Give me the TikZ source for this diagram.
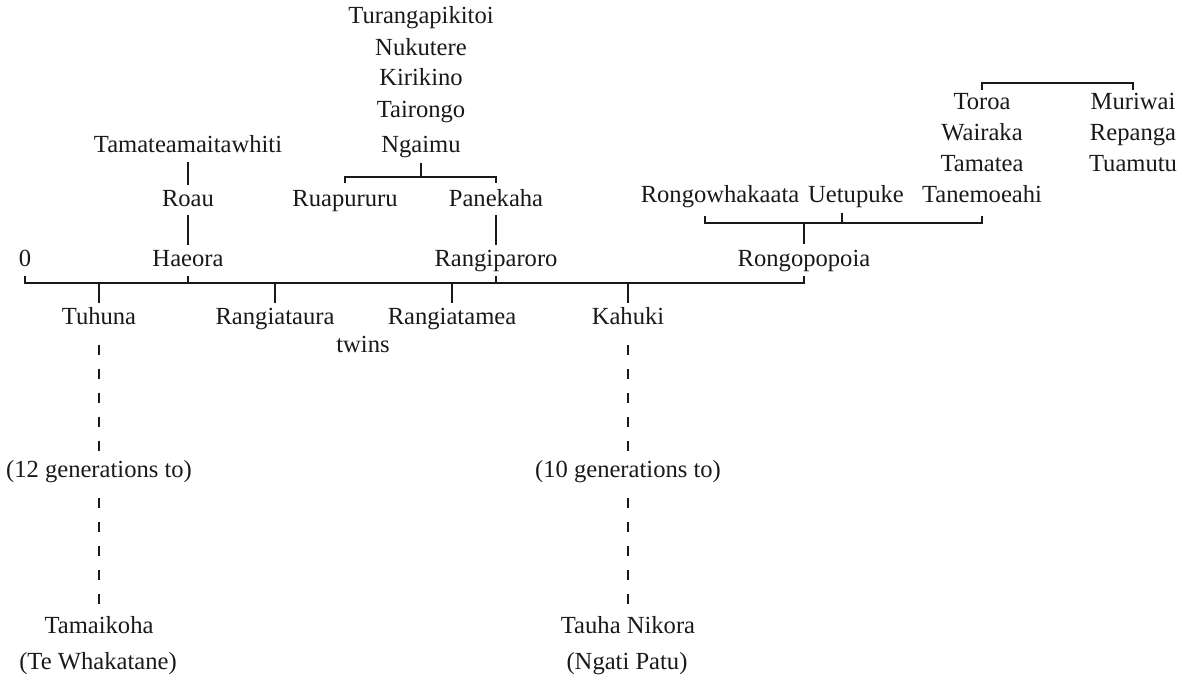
\documentclass[tikz,border=0pt]{standalone}
\usepackage{fontspec}
\setmainfont{Liberation Serif}
\usetikzlibrary{calc}
\definecolor{inkcol}{RGB}{25,25,25}
\tikzset{
  % a name in the tree
  pname/.style={font=\fontsize{12.3}{14}\selectfont, text=inkcol, inner sep=0pt,
                text height=8.5pt, text depth=2.5pt},
  % parent -- child line between two names
  link/.style={draw=inkcol, line width=0.75pt, shorten <=2pt, shorten >=2pt},
  % from a parent down to a sibling bracket
  stem/.style={draw=inkcol, line width=0.75pt, shorten <=2.5pt},
  % sibling bracket
  sibs/.style={draw=inkcol, line width=0.75pt, shorten <=3pt, shorten >=3pt},
  % main line of descent
  spine/.style={draw=inkcol, line width=1.1pt, shorten <=2.5pt},
  % many generations skipped
  descent/.style={draw=inkcol, line width=0.9pt, dash pattern=on 5pt off 7pt},
}
\begin{document}
\begin{tikzpicture}[x=0.5pt,y=-0.5pt]
  \useasboundingbox (0,0) rectangle (1187,684);

  % Ngaimu line
  \node[pname] (tur) at (421,18) {Turangapikitoi};
  \node[pname] (nuk) at (421,50) {Nukutere};
  \node[pname] (kir) at (421,80) {Kirikino};
  \node[pname] (tai) at (421,112) {Tairongo};
  \node[pname] (ngai) at (421,147) {Ngaimu};
  \node[pname] (ruap) at (345,200) {Ruapururu};
  \node[pname] (pane) at (496,200) {Panekaha};
  \node[pname] (rpar) at (496,260) {Rangiparoro};
  \coordinate (ngaib) at (421,177);
  \draw[stem] (ngai) -- (ngaib);
  \draw[sibs] (ruap) |- (ngaib) -| (pane);
  \draw[link] (pane) -- (rpar);

  % Tamateamaitawhiti line
  \node[pname] (tmw) at (188,147) {Tamateamaitawhiti};
  \node[pname] (roau) at (188,200) {Roau};
  \node[pname] (haeora) at (188,260) {Haeora};
  \draw[link] (tmw) -- (roau);
  \draw[link] (roau) -- (haeora);

  % Toroa and Muriwai
  \node[pname] (toroa) at (982,104) {Toroa};
  \node[pname] (wair) at (982,135) {Wairaka};
  \node[pname] (tamt) at (982,166) {Tamatea};
  \node[pname] (tane) at (982,197) {Tanemoeahi};
  \node[pname] (muri) at (1133,104) {Muriwai};
  \node[pname] (repa) at (1133,135) {Repanga};
  \node[pname] (tuam) at (1133,166) {Tuamutu};
  \coordinate (torb) at (1057,83);
  \draw[sibs, shorten <=1.5pt, shorten >=1.5pt] (toroa) |- (torb) -| (muri);

  % Rongopopoia and his wives
  \node[pname] (rwh) at (720,197) {Rongowhakaata};
  \node[pname] (uet) at (856,197) {Uetupuke};
  \node[pname] (rpop) at (804,260) {Rongopopoia};
  \coordinate (rpopb) at (804,223);
  \draw[sibs, shorten <=4pt, shorten >=4pt] ([xshift=-7.5pt]rwh.south) |- (rpopb) -| (tane.south);
  \draw[stem] ([xshift=-7pt]uet.south) -- ([xshift=-7pt]uet.south |- rpopb);
  \draw[stem] (rpop) -- (rpopb);

  % main line and the children
  \node[pname] (zero) at (25,260) {0};
  \coordinate (spl) at (0,283);
  \draw[spine, shorten >=2.5pt] (zero) -- (zero |- spl) -| (rpop);
  \draw[spine] (haeora) -- (haeora |- spl);
  \draw[spine] (rpar) -- (rpar |- spl);

  \node[pname] (tuh) at (99,318) {Tuhuna};
  \node[pname] (rtaura) at (275,318) {Rangiataura};
  \node[pname] (rtamea) at (452,318) {Rangiatamea};
  \node[pname] (kah) at (628,318) {Kahuki};
  \node[pname] (twins) at (363,346) {twins};
  \draw[spine, line width=0.9pt, shorten <=2pt] (tuh) -- (tuh |- spl);
  \draw[spine, line width=0.9pt, shorten <=2pt] (rtaura) -- (rtaura |- spl);
  \draw[spine, line width=0.9pt, shorten <=2pt] (rtamea) -- (rtamea |- spl);
  \draw[spine, line width=0.9pt, shorten <=2pt] (kah) -- (kah |- spl);

  % Tuhuna down to Tamaikoha
  \node[pname] (gen12) at (99,471) {(12 generations to)};
  \node[pname] (tamk) at (99,627) {Tamaikoha};
  \node[pname] (tewh) at (98,663) {(Te Whakatane)};
  \draw[descent] ([yshift=-8pt]tuh.south) -- (gen12.north);
  \draw[descent] ([yshift=-8pt]gen12.south) -- (tamk.north);

  % Kahuki down to Tauha Nikora
  \node[pname] (gen10) at (628,471) {(10 generations to)};
  \node[pname] (tauha) at (628,627) {Tauha Nikora};
  \node[pname] (ngpatu) at (627,663) {(Ngati Patu)};
  \draw[descent] ([yshift=-8pt]kah.south) -- (gen10.north);
  \draw[descent] ([yshift=-8pt]gen10.south) -- (tauha.north);
\end{tikzpicture}
\end{document}
